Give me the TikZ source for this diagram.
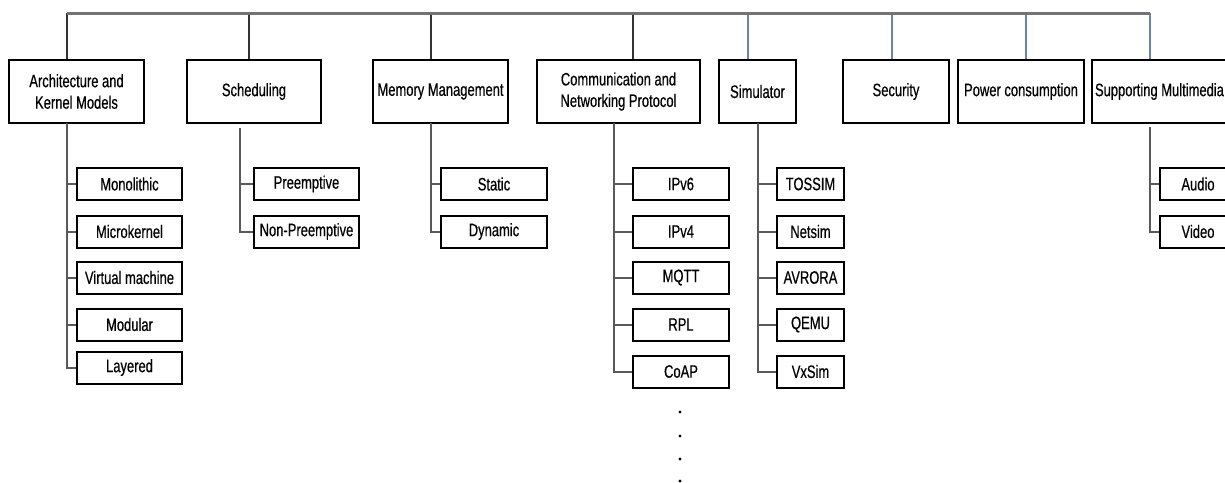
\documentclass[tikz,border=0pt]{standalone}
\usepackage{fontspec}
\setmainfont{Liberation Sans}[FakeStretch=0.72,FakeBold=0.5]
\definecolor{bluegray}{RGB}{110,130,165}
\definecolor{bargray}{RGB}{115,115,115}
\begin{document}
\begin{tikzpicture}[x=1pt,y=-1pt,
  box/.style={draw=black,line width=2pt,inner sep=0pt,align=center,
    font=\fontsize{18}{21.5}\selectfont},
  bar/.style={draw=bargray,line width=3pt},
  drop/.style={draw=black!80,line width=2pt},
  bdrop/.style={draw=bluegray,line width=1.6pt},
  spine/.style={draw=black!65,line width=2pt},
]
\useasboundingbox (0,0) rectangle (1225,482);
% top-level boxes
\node[box,minimum width=135pt,minimum height=63pt] (arch) at (76.5,91.5) {Architecture and\\Kernel Models};
\node[box,minimum width=134pt,minimum height=63pt] (sched) at (254,91.5) {Scheduling};
\node[box,minimum width=135pt,minimum height=63pt] (mem) at (440.5,91.5) {Memory Management};
\node[box,minimum width=163pt,minimum height=63pt] (comm) at (618.5,91.5) {Communication and\\Networking Protocol};
\node[box,minimum width=77pt,minimum height=63pt] (sim) at (757.5,91.5) {Simulator};
\node[box,minimum width=106pt,minimum height=63pt] (sec) at (896,91.5) {Security};
\node[box,minimum width=126pt,minimum height=63pt] (pow) at (1021,91.5) {Power consumption};
\node[box,minimum width=144pt,minimum height=63pt] (sup) at (1164,91.5) {\makebox[144pt][l]{\hspace*{3pt}Supporting Multimedia}};
% top bar coordinates
\coordinate (t1) at (67,13);
\coordinate (t2) at (249,13);
\coordinate (t3) at (431,13);
\coordinate (t4) at (633,13);
\coordinate (t5) at (748,13);
\coordinate (t6) at (892,13);
\coordinate (t7) at (1026,13);
\coordinate (t8) at (1150,13);
\draw[drop] (t1) -- (t1 |- arch.north);
\draw[drop] (t2) -- (t2 |- sched.north);
\draw[drop] (t3) -- (t3 |- mem.north);
\draw[drop] (t4) -- (t4 |- comm.north);
\draw[bdrop] (t5) -- (t5 |- sim.north);
\draw[bdrop] (t6) -- (t6 |- sec.north);
\draw[bdrop] (t7) -- (t7 |- pow.north);
\draw[bdrop] (t8) -- (t8 |- sup.north);
\draw[bar] (t1) -- (t8);
% children boxes
\tikzset{cb/.style={box,minimum height=32pt}}
\node[cb,minimum width=105pt] (mono) at (129.5,184) {Monolithic};
\node[cb,minimum width=105pt] (micro) at (129.5,231.5) {Microkernel};
\node[cb,minimum width=105pt] (virt) at (129.5,277.5) {Virtual machine};
\node[cb,minimum width=105pt] (modu) at (129.5,324.5) {Modular};
\node[cb,minimum width=105pt] (laye) at (129.5,367.5) {Layered};
\node[cb,minimum width=105pt] (pre) at (306.5,184) {Preemptive};
\node[cb,minimum width=105pt] (npre) at (306.5,231.5) {Non-Preemptive};
\node[cb,minimum width=106pt] (stat) at (494,184) {Static};
\node[cb,minimum width=106pt] (dyn) at (494,231.5) {Dynamic};
\node[cb,minimum width=96pt] (ipv6) at (681,184) {IPv6};
\node[cb,minimum width=96pt] (ipv4) at (681,231.5) {IPv4};
\node[cb,minimum width=96pt] (mqtt) at (681,277.5) {MQTT};
\node[cb,minimum width=96pt] (rpl) at (681,324.5) {RPL};
\node[cb,minimum width=96pt] (coap) at (681,371.5) {CoAP};
\node[cb,minimum width=67pt] (toss) at (810.5,184) {TOSSIM};
\node[cb,minimum width=67pt] (nets) at (810.5,231.5) {Netsim};
\node[cb,minimum width=67pt] (avro) at (810.5,277.5) {AVRORA};
\node[cb,minimum width=67pt] (qemu) at (810.5,324.5) {QEMU};
\node[cb,minimum width=67pt] (vxs) at (810.5,371.5) {VxSim};
\node[cb,minimum width=76pt] (aud) at (1198,184) {Audio};
\node[cb,minimum width=76pt] (vid) at (1198,231.5) {Video};
% spines
\coordinate (sa) at (67,123);
\coordinate (ss) at (240,128);
\coordinate (sm) at (431,123);
\coordinate (sc) at (614,123);
\coordinate (si) at (758,123);
\coordinate (su) at (1150,127);
\draw[spine] (sa) |- (laye.west);
\foreach \c in {mono,micro,virt,modu} \draw[spine] (sa |- \c.west) -- (\c.west);
\draw[spine] (ss) |- (npre.west);
\draw[spine] (ss |- pre.west) -- (pre.west);
\draw[spine] (sm) |- (dyn.west);
\draw[spine] (sm |- stat.west) -- (stat.west);
\draw[spine] (sc) |- (coap.west);
\foreach \c in {ipv6,ipv4,mqtt,rpl} \draw[spine] (sc |- \c.west) -- (\c.west);
\draw[spine] (si) |- (vxs.west);
\foreach \c in {toss,nets,avro,qemu} \draw[spine] (si |- \c.west) -- (\c.west);
\draw[spine] (su) |- (vid.west);
\draw[spine] (su |- aud.west) -- (aud.west);
% dots
\foreach \y in {412,436,459,481} \fill (680,\y) circle (1.6pt);
\end{tikzpicture}
\end{document}
